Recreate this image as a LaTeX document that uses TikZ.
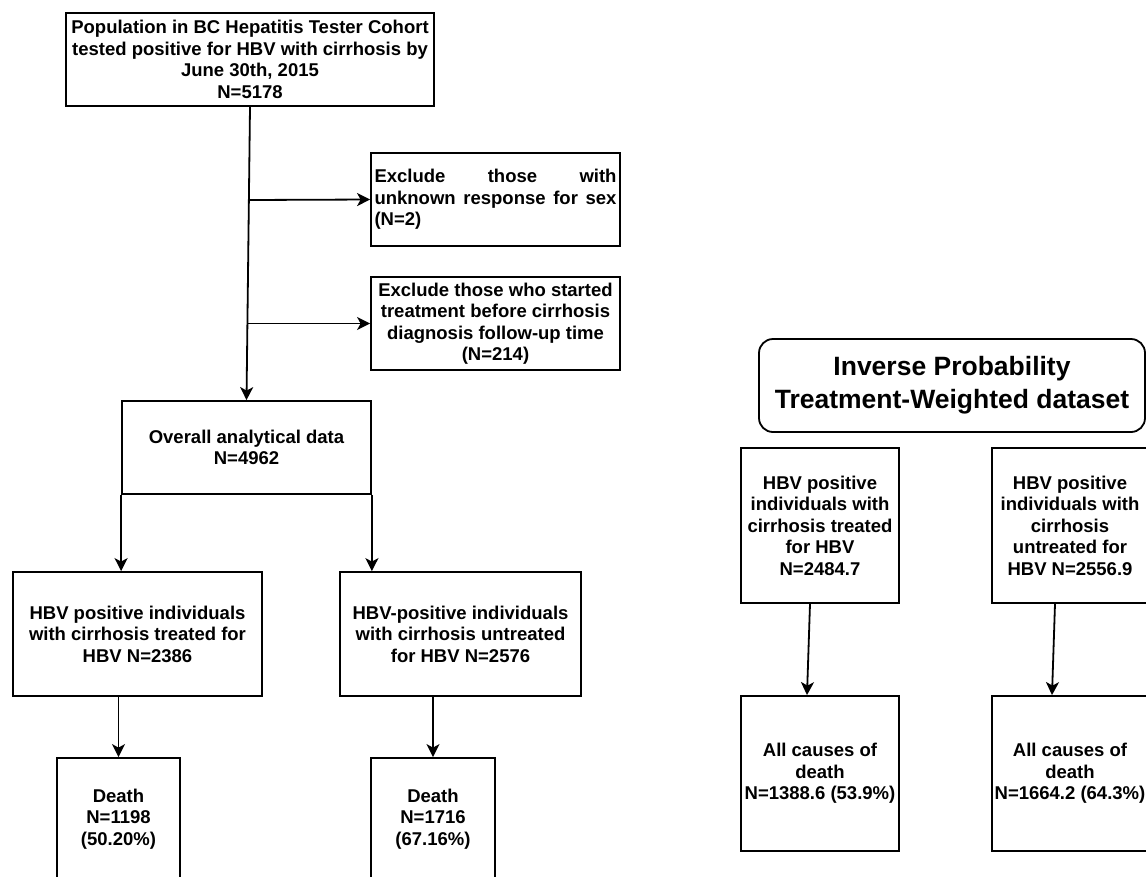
\documentclass[tikz,border=0pt]{standalone}
\usepackage{fontspec}
\setmainfont{Liberation Sans}
\usetikzlibrary{arrows.meta}
\begin{document}
\begin{tikzpicture}[x=1pt,y=-1pt,
  fbox/.style={draw, line width=1.8pt, inner sep=0pt, align=center,
    font=\fontsize{18.5}{21.5}\selectfont\bfseries},
  headbox/.style={fbox, rounded corners=14pt,
    font=\fontsize{26.5}{33}\selectfont\bfseries},
  arr/.style={line width=1.8pt, -{Stealth[length=13pt,width=13pt,inset=3.5pt]}}]
\useasboundingbox (0,0) rectangle (1146,876);
\clip (0,0) rectangle (1146,876);
% left flow
\node[fbox, minimum width=368, minimum height=93] (top) at (250,59.5)
  {Population in BC Hepatitis Tester Cohort\\tested positive for HBV with cirrhosis by\\June 30th, 2015\\N=5178};
\node[fbox, minimum width=249, minimum height=93] (ex1) at (495.5,199.5)
  {\hbox to 242pt{Exclude\hfil those\hfil with}\\\hbox to 242pt{unknown\hfil response\hfil for\hfil sex}\\\hbox to 242pt{(N=2)\hfil}};
\node[fbox, minimum width=249, minimum height=93] (ex2) at (495.5,323.5)
  {Exclude those who started\\treatment before cirrhosis\\diagnosis follow-up time\\(N=214)};
\node[fbox, minimum width=249, minimum height=93] (all) at (246.5,447.5)
  {Overall analytical data\\N=4962};
\node[fbox, minimum width=249, minimum height=124] (hbvT) at (137.5,634)
  {HBV positive individuals\\with cirrhosis treated for\\HBV N=2386};
\node[fbox, minimum width=241, minimum height=124] (hbvU) at (460.5,634)
  {HBV-positive individuals\\with cirrhosis untreated\\for HBV N=2576};
\node[fbox, minimum width=123, minimum height=122] (deathT) at (118.5,819)
  {Death\\N=1198\\(50.20\%)};
\node[fbox, minimum width=124, minimum height=122] (deathU) at (433,819)
  {Death\\N=1716\\(67.16\%)};
\coordinate (j1) at (249,200);
\coordinate (j2) at (248,323.5);
\draw[arr] (top.south) -- (all.north);
\draw[arr] (j1) -- (ex1.west);
\draw[arr] (j2) -- (ex2.west);
\draw[arr] (all.south west) -- (all.south west |- hbvT.north);
\draw[arr] (all.south east) -- (all.south east |- hbvU.north);
\draw[arr] (deathT.north |- hbvT.south) -- (deathT.north);
\draw[arr] (deathU.north |- hbvU.south) -- (deathU.north);
% right flow
\node[headbox, minimum width=386, minimum height=93] (iptw) at (952,385.5)
  {Inverse Probability\\Treatment-Weighted dataset};
\node[fbox, minimum width=158, minimum height=155] (wT) at (820,525.5)
  {HBV positive\\individuals with\\cirrhosis treated\\for HBV\\N=2484.7};
\node[fbox, minimum width=156, minimum height=155] (wU) at (1070,525.5)
  {HBV positive\\individuals with\\cirrhosis\\untreated for\\HBV N=2556.9};
\node[fbox, minimum width=158, minimum height=155] (dT) at (820,773.5)
  {All causes of\\death\\N=1388.6 (53.9\%)};
\node[fbox, minimum width=156, minimum height=155] (dU) at (1070,773.5)
  {All causes of\\death\\N=1664.2 (64.3\%)};
\draw[arr] ([xshift=-10]wT.south) -- ([xshift=-13]dT.north);
\draw[arr] ([xshift=-15]wU.south) -- ([xshift=-18]dU.north);
\end{tikzpicture}
\end{document}
